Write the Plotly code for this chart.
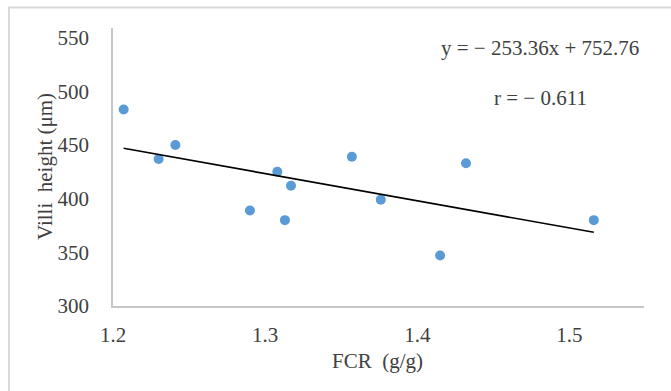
import plotly.graph_objects as go

# Data
fcr = [1.207, 1.230, 1.241, 1.290, 1.308, 1.313, 1.317, 1.357, 1.376, 1.415, 1.432, 1.516]
villi = [483, 437, 450, 389, 425, 380, 412, 439, 399, 347, 433, 380]

slope = -253.36
intercept = 752.76
r_value = -0.611

x_ticks = [1.2, 1.3, 1.4, 1.5]
x_tick_labels = ["1.2", "1.3", "1.4", "1.5"]
y_ticks = [300, 350, 400, 450, 500, 550]
y_tick_labels = ["300", "350", "400", "450", "500", "550"]

W, H = 671, 391
ML, MR, MT, MB = 113, 27, 28, 85
PW = W - ML - MR
PH = H - MT - MB

def px(xp):
    return (xp - ML) / PW

def py(yp):
    return (H - MB - yp) / PH

FONT = "Liberation Serif, Times New Roman, serif"
TXT = "#404040"
FS = 21

xmin, xmax = min(fcr), max(fcr)
trend_x = [xmin, xmax]
trend_y = [slope * v + intercept for v in trend_x]

fig = go.Figure()
fig.add_trace(go.Scatter(
    x=fcr, y=villi, mode="markers",
    marker=dict(color="#5B9BD5", size=10, line=dict(width=0)),
    showlegend=False, hoverinfo="x+y"))
fig.add_trace(go.Scatter(
    x=trend_x, y=trend_y, mode="lines",
    line=dict(color="black", width=1.6),
    showlegend=False, hoverinfo="skip"))

fig.update_layout(
    width=W, height=H,
    margin=dict(l=ML, r=MR, t=MT, b=MB),
    paper_bgcolor="white", plot_bgcolor="white",
    font=dict(family=FONT, size=FS, color=TXT),
    xaxis=dict(range=[1.2, 1.549], tickvals=x_ticks, ticktext=x_tick_labels,
               showgrid=False, zeroline=False, showline=True,
               linecolor="#c6c6c6", linewidth=1.5, ticks="",
               ticklabelstandoff=9,
               tickfont=dict(family=FONT, size=FS, color=TXT)),
    yaxis=dict(range=[300, 559], tickvals=y_ticks, ticktext=y_tick_labels,
               showgrid=False, zeroline=False, showline=True,
               linecolor="#c6c6c6", linewidth=1.5, ticks="",
               ticklabelstandoff=18,
               tickfont=dict(family=FONT, size=FS, color=TXT)),
    annotations=[
        dict(text="FCR  (g/g)", xref="paper", yref="paper",
             x=px(377), y=py(361), xanchor="center", yanchor="middle",
             showarrow=False, font=dict(family=FONT, size=FS, color=TXT)),
        dict(text="Villi  height (μm)", xref="paper", yref="paper",
             x=px(45), y=py(167), xanchor="center", yanchor="middle",
             textangle=-90, showarrow=False,
             font=dict(family=FONT, size=FS, color=TXT)),
        dict(text=f"y = − {abs(slope):.2f}x + {intercept:.2f}", xref="paper", yref="paper",
             x=px(641), y=py(48), xanchor="right", yanchor="middle",
             showarrow=False, font=dict(family=FONT, size=FS, color=TXT)),
        dict(text=f"r = − {abs(r_value):.3f}", xref="paper", yref="paper",
             x=px(540), y=py(98), xanchor="center", yanchor="middle",
             showarrow=False, font=dict(family=FONT, size=FS, color=TXT)),
    ],
    shapes=[
        dict(type="rect", xref="paper", yref="paper",
             x0=px(9), x1=px(680), y0=py(7.5), y1=py(400),
             line=dict(color="#d9d9d9", width=2), fillcolor="rgba(0,0,0,0)",
             layer="below"),
    ],
)

fig.write_html("out.html")
